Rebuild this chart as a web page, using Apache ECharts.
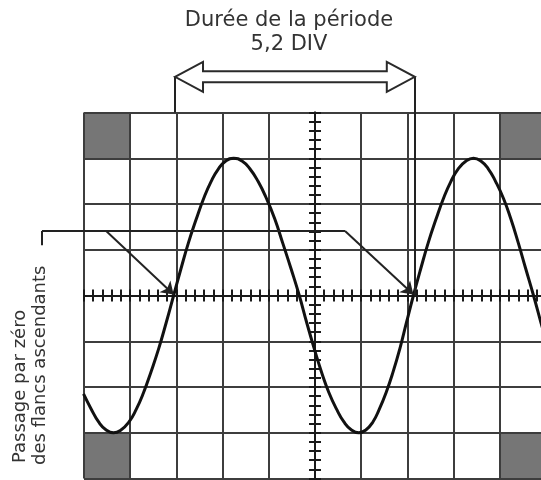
<!DOCTYPE html>
<html>
<head>
<meta charset="utf-8">
<script src="https://cdn.jsdelivr.net/npm/echarts@6/dist/echarts.min.js"></script>
<style>
html,body{margin:0;padding:0;background:#fff;}
#chart{width:541px;height:480px;}
</style>
</head>
<body>
<div id="chart"></div>
<script>
// Oscilloscope screen: x in divisions from centre (-5..5), y in divisions (-4..4)
const curveX = [-5.01, -4.84, -4.68, -4.52, -4.36, -4.20, -4.03, -3.87, -3.71, -3.55, -3.38, -3.22,
  -3.06, -2.90, -2.74, -2.57, -2.41, -2.25, -2.09, -1.93, -1.76, -1.58, -1.41, -1.23, -1.05, -0.87, -0.70, -0.52,
  -0.34, -0.18, -0.02, 0.14, 0.30, 0.47, 0.63, 0.79, 0.95, 1.10, 1.25, 1.39, 1.54, 1.69, 1.84, 1.98,
  2.13, 2.29, 2.45, 2.62, 2.78, 2.94, 3.10, 3.27, 3.43, 3.59, 3.75, 3.91, 4.08, 4.24, 4.40, 4.56, 4.73, 4.89, 5.05];
const curveY = [-2.15, -2.49, -2.77, -2.94, -3.0, -2.94, -2.77, -2.49, -2.12, -1.67, -1.15, -0.59,
  0, 0.59, 1.15, 1.67, 2.12, 2.49, 2.77, 2.94, 3.0, 2.94, 2.77, 2.49, 2.12, 1.67, 1.15, 0.59,
  0, -0.59, -1.15, -1.67, -2.12, -2.49, -2.77, -2.94, -3.0, -2.94, -2.77, -2.49, -2.12, -1.67, -1.15, -0.59,
  0, 0.59, 1.15, 1.67, 2.12, 2.49, 2.77, 2.94, 3.0, 2.94, 2.77, 2.49, 2.12, 1.67, 1.15, 0.59, 0, -0.59, -1.15];

// shaded corner cells [x0, y0, x1, y1]
const cornerCells = [[-5, 3, -4, 4], [-5, -4, -4, -3], [4, 3, 5, 4], [4, -4, 5, -3]];

// period double arrow: [x start, x end, y]
const periodArrow = [[-3.03, 2.16, 4.78]];
// extension lines [x, yTop, yBottom]
const extensionLines = [[-3.03, 4.78, 4.0], [2.16, 4.78, 0.0]];
// leader bracket polyline points
const leaderPath = [[-5.91, 1.10], [-5.91, 1.41], [0.65, 1.41]];
// pointer arrows [[from], [to]]
const pointerArrows = [
  [[-4.52, 1.41], [-3.06, 0.02]],
  [[0.65, 1.41], [2.13, 0.02]]
];

const titleLines = ['Durée de la période', '5,2 DIV'];
const sideLines = ['Passage par zéro', 'des flancs ascendants'];

const chart = echarts.init(document.getElementById('chart'), null, {renderer: 'canvas'});

const gridColor = '#3d3d3d';
const inkColor = '#1a1a1a';

function valueAxis(min, max, interval, extra) {
  return Object.assign({
    type: 'value', min: min, max: max, interval: interval,
    axisLabel: {show: false},
    axisTick: {show: false},
    axisLine: {show: false},
    splitLine: {show: false}
  }, extra);
}

const centreTick = (inside, pos) => ({
  position: pos,
  axisLine: {show: true, onZero: true, onZeroAxisIndex: 0, lineStyle: {color: inkColor, width: 2}},
  axisTick: {show: true, inside: inside, length: 6, lineStyle: {color: inkColor, width: 2}}
});

const lineData = [];
leaderPath.forEach((p, i) => { if (i > 0) lineData.push({coords: [leaderPath[i - 1], p]}); });
extensionLines.forEach(e => lineData.push({coords: [[e[0], e[1]], [e[0], e[2]]]}));

const option = {
  animation: false,
  backgroundColor: '#fff',
  grid: {left: 84, top: 112.5, width: 462, height: 366, outerBoundsMode: 'none', containLabel: false},
  xAxis: [
    valueAxis(-5, 5, 1, {splitLine: {show: true, lineStyle: {color: gridColor, width: 2}}}),
    valueAxis(-5, 5, 0.2, centreTick(true, 'bottom')),
    valueAxis(-5, 5, 0.2, centreTick(false, 'bottom'))
  ],
  yAxis: [
    valueAxis(-4, 4, 1, {splitLine: {show: true, lineStyle: {color: gridColor, width: 2}}}),
    valueAxis(-4, 4, 0.2, centreTick(true, 'left')),
    valueAxis(-4, 4, 0.2, centreTick(false, 'left'))
  ],
  graphic: [
    {type: 'text', x: 289, y: 21, style: {text: titleLines[0], font: '21px "DejaVu Sans"', fill: '#333', textAlign: 'center', textVerticalAlign: 'middle', align: 'center', verticalAlign: 'middle'}},
    {type: 'text', x: 289, y: 45, style: {text: titleLines[1], font: '21px "DejaVu Sans"', fill: '#333', textAlign: 'center', textVerticalAlign: 'middle', align: 'center', verticalAlign: 'middle'}},
    {type: 'text', x: 20, y: 463, rotation: Math.PI / 2, style: {text: sideLines[0], font: '18px "DejaVu Sans"', fill: '#333', textAlign: 'left', textVerticalAlign: 'middle', align: 'left', verticalAlign: 'middle'}},
    {type: 'text', x: 40, y: 465, rotation: Math.PI / 2, style: {text: sideLines[1], font: '18px "DejaVu Sans"', fill: '#333', textAlign: 'left', textVerticalAlign: 'middle', align: 'left', verticalAlign: 'middle'}}
  ],
  series: [
    {
      type: 'custom', name: 'corners', xAxisIndex: 0, yAxisIndex: 0, z: -1, silent: true,
      data: cornerCells,
      renderItem: function (params, api) {
        const a = api.coord([api.value(0), api.value(3)]);
        const b = api.coord([api.value(2), api.value(1)]);
        return {type: 'rect', shape: {x: a[0], y: a[1], width: b[0] - a[0], height: b[1] - a[1]}, style: {fill: '#767676'}};
      }
    },
    {
      type: 'line', name: 'signal', xAxisIndex: 0, yAxisIndex: 0, z: 5,
      data: curveX.map((x, i) => [x, curveY[i]]),
      smooth: 0.5, showSymbol: false, symbol: 'none',
      lineStyle: {color: '#111', width: 3, join: 'round'}
    },
    {
      type: 'lines', coordinateSystem: 'cartesian2d', xAxisIndex: 0, yAxisIndex: 0, z: 6, clip: false, silent: true,
      data: lineData, symbol: 'none',
      lineStyle: {color: '#222', width: 2, opacity: 1, curveness: 0}
    },
    {
      type: 'lines', coordinateSystem: 'cartesian2d', xAxisIndex: 0, yAxisIndex: 0, z: 6, clip: false, silent: true,
      data: pointerArrows.map(p => ({coords: p})), symbol: ['none', 'arrow'], symbolSize: 12,
      lineStyle: {color: '#222', width: 2, opacity: 1, curveness: 0},
      itemStyle: {color: '#222'}
    },
    {
      type: 'custom', name: 'period', xAxisIndex: 0, yAxisIndex: 0, z: 7, clip: false, silent: true,
      data: periodArrow,
      renderItem: function (params, api) {
        const p0 = api.coord([api.value(0), api.value(2)]);
        const p1 = api.coord([api.value(1), api.value(2)]);
        const y = p0[1], hl = 28, hh = 15, sh = 5.5;
        const l = p0[0], r = p1[0];
        const pts = [
          [l, y], [l + hl, y - hh], [l + hl, y - sh], [r - hl, y - sh], [r - hl, y - hh],
          [r, y], [r - hl, y + hh], [r - hl, y + sh], [l + hl, y + sh], [l + hl, y + hh]
        ];
        return {type: 'polygon', shape: {points: pts}, style: {fill: '#fff', stroke: '#2a2a2a', lineWidth: 2, lineJoin: 'miter'}};
      }
    }
  ]
};
chart.setOption(option);
</script>
</body>
</html>
